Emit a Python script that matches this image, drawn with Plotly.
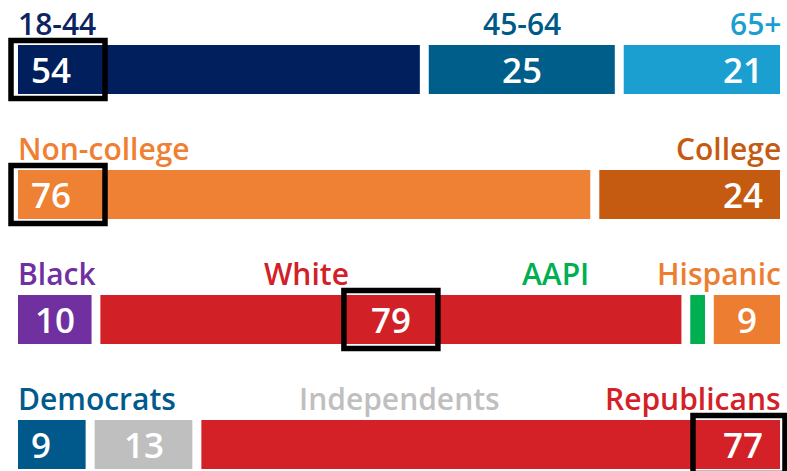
import plotly.graph_objects as go

W, H = 787, 471

# ---------------- data ----------------
age_labels = ["18-44", "45-64", "65+"]
age_values = [54, 25, 21]

edu_labels = ["Non-college", "College"]
edu_values = [76, 24]

race_labels = ["Black", "White", "AAPI", "Hispanic"]
race_values = [10, 79, 2, 9]
race_shown = [True, True, False, True]

party_labels = ["Democrats", "Independents", "Republicans"]
party_values = [9, 13, 77]

# ---------------- styles ----------------
age_colors = ["#001f5c", "#005f8a", "#1b9fd0"]
age_label_colors = ["#0c2461", "#005a87", "#1b9fd0"]
edu_colors = ["#ee8133", "#c55a11"]
edu_label_colors = ["#ef8033", "#c55a11"]
race_colors = ["#7030a0", "#d22027", "#00b050", "#ed7d31"]
race_label_colors = ["#7030a0", "#d22027", "#00b050", "#ed7d31"]
party_colors = ["#00598a", "#bfbfbf", "#d42128"]
party_label_colors = ["#005b8c", "#bfbfbf", "#d42128"]

FONT = "Open Sans"
LABEL_SIZE = 30
VALUE_SIZE = 35
LABEL_WEIGHT = 600
VALUE_WEIGHT = 600

X_LEFT, X_RIGHT = 18, 780
BAR_TOPS = [45, 170, 295, 420]
BAR_H = 49
GAP = 1.2  # gap between segments (data units)

rows = [
    dict(labels=age_labels, values=age_values, colors=age_colors, lcolors=age_label_colors,
         shown=[True] * 3, valign=["left", "center", "right"],
         lalign=["left", "center", "right"], lcenter_px=[None, None, None],
         box=("left", 0)),
    dict(labels=edu_labels, values=edu_values, colors=edu_colors, lcolors=edu_label_colors,
         shown=[True] * 2, valign=["left", "right"],
         lalign=["left", "right"], lcenter_px=[None, None],
         box=("left", 0)),
    dict(labels=race_labels, values=race_values, colors=race_colors, lcolors=race_label_colors,
         shown=race_shown, valign=["center", "center", None, "center"],
         lalign=["left", "center", "center", "right"], lcenter_px=[None, 306, 555, None],
         box=("center", 1)),
    dict(labels=party_labels, values=party_values, colors=party_colors, lcolors=party_label_colors,
         shown=[True] * 3, valign=["left", "center", "right"],
         lalign=["left", "center", "right"], lcenter_px=[None, 399, None],
         box=("right", 2)),
]

fig = go.Figure()
annotations = []
shapes = []
layout_axes = {}

for r, row in enumerate(rows, start=1):
    vals = row["values"]
    n = len(vals)
    total = sum(vals) + GAP * (n - 1)
    k = (X_RIGHT - X_LEFT) / total
    T = BAR_TOPS[r - 1]
    d_top = max(T - 14, 0)
    d_bot = min(T + BAR_H + 14, H)
    xa = "x" if r == 1 else f"x{r}"
    ya = "y" if r == 1 else f"y{r}"
    xkey = "xaxis" if r == 1 else f"xaxis{r}"
    ykey = "yaxis" if r == 1 else f"yaxis{r}"
    layout_axes[xkey] = dict(domain=[0, 1], range=[-X_LEFT / k, total + (W - X_RIGHT) / k],
                             visible=False, fixedrange=True, anchor=ya)
    layout_axes[ykey] = dict(domain=[1 - d_bot / H, 1 - d_top / H],
                             range=[-0.5 - (d_bot - (T + BAR_H)) / BAR_H, 0.5 + (T - d_top) / BAR_H],
                             visible=False, fixedrange=True, anchor=xa)

    starts = []
    s = 0.0
    for v in vals:
        starts.append(s)
        s += v + GAP

    for i, (lab, v, c) in enumerate(zip(row["labels"], vals, row["colors"])):
        fig.add_trace(go.Bar(
            y=[0], x=[v], base=[starts[i]], orientation="h", width=1,
            marker=dict(color=c, line=dict(width=0)),
            xaxis=xa, yaxis=ya, name=lab, showlegend=False, hoverinfo="skip",
        ))
        # value text
        va = row["valign"][i]
        if row["shown"][i] and va:
            if va == "left":
                ax, anc, sh = starts[i], "left", 11
            elif va == "center":
                ax, anc, sh = starts[i] + v / 2, "center", 0
            else:
                ax, anc, sh = starts[i] + v, "right", -15
            annotations.append(dict(
                x=ax, y=0, xref=xa, yref=ya, text=str(v), showarrow=False,
                xanchor=anc, yanchor="middle", xshift=sh,
                font=dict(family=FONT, size=VALUE_SIZE, color="white", weight=VALUE_WEIGHT),
            ))
        # category label
        la = row["lalign"][i]
        if la == "left":
            lx, lanc, lsh = starts[i], "left", -1
        elif la == "right":
            lx, lanc, lsh = starts[i] + v, "right", 2
        else:
            cpx = row["lcenter_px"][i]
            lx = (cpx - X_LEFT) / k if cpx is not None else starts[i] + v / 2
            lanc, lsh = "center", 0
        annotations.append(dict(
            x=lx, y=0.5, xref=xa, yref=ya, text=lab, showarrow=False,
            xanchor=lanc, yanchor="bottom", xshift=lsh, yshift=0, borderpad=0,
            font=dict(family=FONT, size=LABEL_SIZE, color=row["lcolors"][i], weight=LABEL_WEIGHT),
        ))

    # highlight box around the value
    mode, idx = row["box"]
    if mode == "left":
        anchor, x0, x1 = starts[idx], -7, 87
    elif mode == "center":
        anchor, x0, x1 = starts[idx] + vals[idx] / 2, -47, 47
    else:
        anchor, x0, x1 = starts[idx] + vals[idx], -87, 5
    shapes.append(dict(
        type="rect", xref=xa, yref=ya, xsizemode="pixel", xanchor=anchor, x0=x0, x1=x1,
        ysizemode="pixel", yanchor=0, y0=-29, y1=29,
        line=dict(color="black", width=5.5), fillcolor="rgba(0,0,0,0)", layer="above",
    ))

fig.update_layout(
    width=W, height=H,
    margin=dict(l=0, r=0, t=0, b=0),
    paper_bgcolor="white", plot_bgcolor="rgba(0,0,0,0)",
    barmode="overlay", showlegend=False,
    annotations=annotations, shapes=shapes,
    **layout_axes,
)

# remove the default 8px page margin so the 787x471 figure fills the window
fig.write_html("out.html", config={"displayModeBar": False},
               post_script="document.body.style.margin='0';document.body.style.overflow='hidden';")
